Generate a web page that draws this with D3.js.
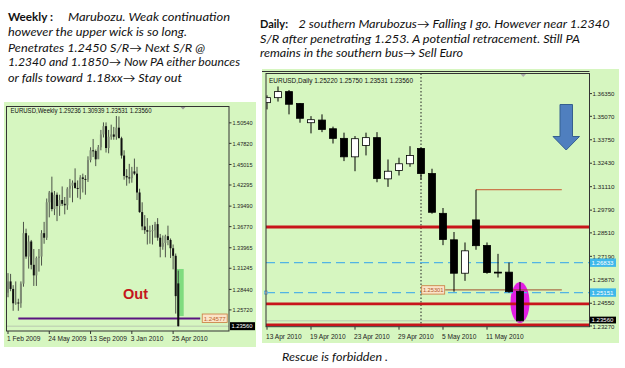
<!DOCTYPE html>
<html><head><meta charset="utf-8">
<script src="https://cdnjs.cloudflare.com/ajax/libs/d3/7.8.5/d3.min.js"></script>
<style>body{margin:0;background:#fff}svg{display:block}</style>
</head><body><svg id="c" width="625" height="368"></svg>
<script>
// ---------------- DATA ----------------
// Weekly EURUSD, week starting 1 Feb 2009 ... 9 May 2010
const wOpen  = [1.2800,1.2950,1.2850,1.2660,1.2670,1.2660,1.2920,1.3590,1.3280,1.3480,1.3170,1.3030,1.3260,1.3280,1.3590,1.3530,1.4000,1.4130,1.3910,1.4100,1.3950,1.4030,1.3980,1.3960,1.4180,1.4220,1.4260,1.4190,1.4180,1.4330,1.4310,1.4300,1.4560,1.4690,1.4680,1.4570,1.4730,1.4900,1.5010,1.4720,1.4870,1.4900,1.4870,1.4990,1.4850,1.4620,1.4350,1.4330,1.4320,1.4410,1.4380,1.4130,1.3870,1.3680,1.3630,1.3610,1.3620,1.3630,1.3710,1.3530,1.3410,1.3460,1.3550,1.3500,1.3390,1.3290,1.29236];
const wHigh  = [1.3060,1.3050,1.2900,1.2950,1.2720,1.2950,1.3740,1.3650,1.3560,1.3500,1.3380,1.3280,1.3380,1.3630,1.3740,1.4050,1.4150,1.4340,1.4150,1.4130,1.4100,1.4210,1.4070,1.4200,1.4310,1.4290,1.4450,1.4290,1.4360,1.4380,1.4360,1.4610,1.4730,1.4840,1.4700,1.4760,1.4960,1.5060,1.5060,1.4960,1.5030,1.5000,1.5145,1.5140,1.4870,1.4690,1.4440,1.4510,1.4470,1.4580,1.4470,1.4180,1.4000,1.3830,1.3790,1.3690,1.3700,1.3740,1.3790,1.3580,1.3560,1.3570,1.3690,1.3520,1.3440,1.3320,1.30939];
const wLow   = [1.2740,1.2820,1.2560,1.2640,1.2560,1.2600,1.2880,1.3250,1.3120,1.3110,1.2890,1.2890,1.3080,1.3160,1.3450,1.3500,1.3800,1.3880,1.3830,1.3750,1.3820,1.3950,1.3840,1.3900,1.4060,1.4000,1.4180,1.4060,1.4040,1.4130,1.4100,1.4270,1.4530,1.4600,1.4480,1.4580,1.4690,1.4860,1.4660,1.4650,1.4830,1.4830,1.4830,1.4900,1.4580,1.4300,1.4220,1.4250,1.4260,1.4360,1.4030,1.3860,1.3630,1.3580,1.3440,1.3450,1.3440,1.3530,1.3490,1.3270,1.3370,1.3270,1.3430,1.3260,1.3110,1.2523,1.23531];
const wClose = [1.2950,1.2850,1.2660,1.2670,1.2660,1.2920,1.3590,1.3280,1.3480,1.3170,1.3030,1.3260,1.3280,1.3590,1.3530,1.4000,1.4130,1.3910,1.4100,1.3950,1.4030,1.3980,1.3960,1.4180,1.4220,1.4260,1.4190,1.4180,1.4330,1.4310,1.4300,1.4560,1.4690,1.4680,1.4570,1.4730,1.4900,1.5010,1.4720,1.4870,1.4900,1.4870,1.4990,1.4850,1.4620,1.4350,1.4330,1.4320,1.4410,1.4380,1.4130,1.3870,1.3680,1.3630,1.3610,1.3620,1.3630,1.3710,1.3530,1.3410,1.3460,1.3550,1.3500,1.3390,1.3290,1.2755,1.23560];
const wDateLabels = ["1 Feb 2009","24 May 2009","13 Sep 2009","3 Jan 2010","25 Apr 2010"];
const wDateIdx = [0,16,32,48,64];
const wPriceTicks = [1.50540,1.47820,1.45015,1.42295,1.39490,1.36770,1.33965,1.31245,1.28440,1.25720];
const wHeader = "EURUSD,Weekly  1.29236 1.30939 1.23531 1.23560";
const wSupport = 1.24577;            // horizontal support line
const wSupportSpan = [4, 74.5];      // bar index range
const wBid = 1.23560;
const wBox = {i0:65.5, i1:68.1, p0:1.3115, p1:1.2490};

// Daily EURUSD, 13 Apr 2010 ... 14 May 2010
const dDates = ["13 Apr","14 Apr","15 Apr","16 Apr","19 Apr","20 Apr","21 Apr","22 Apr","23 Apr","26 Apr","27 Apr","28 Apr","29 Apr","30 Apr","3 May","4 May","5 May","6 May","7 May","10 May","11 May","12 May","13 May","14 May"];
const dOpen  = [1.3584,1.3612,1.3646,1.3579,1.3471,1.3486,1.3437,1.3383,1.3279,1.3343,1.3387,1.3155,1.3202,1.3240,1.3326,1.3185,1.2961,1.2812,1.2624,1.2924,1.2780,1.2630,1.2630,1.25220];
const dHigh  = [1.3625,1.3675,1.3655,1.3582,1.3508,1.3518,1.3449,1.3415,1.3396,1.3415,1.3418,1.3264,1.3274,1.3339,1.3330,1.3212,1.2991,1.2856,1.2797,1.30939,1.2797,1.2733,1.2684,1.25750];
const dLow   = [1.3546,1.3590,1.3518,1.3471,1.3411,1.3418,1.3354,1.3255,1.3198,1.3287,1.3136,1.3110,1.3174,1.3223,1.3151,1.2959,1.2782,1.2520,1.2581,1.2756,1.2621,1.2600,1.2514,1.23531];
const dClose = [1.3612,1.3646,1.3575,1.3496,1.3488,1.3433,1.3383,1.3279,1.3381,1.3387,1.3157,1.3198,1.3240,1.3287,1.3185,1.2967,1.2814,1.2624,1.2750,1.2779,1.2628,1.2625,1.2520,1.23560];
const dDateLabels = ["13 Apr 2010","19 Apr 2010","23 Apr 2010","29 Apr 2010","5 May 2010","11 May 2010"];
const dDateIdx = [0,4,8,12,16,20];
const dPriceTicks = [1.36350,1.35070,1.33750,1.32430,1.31110,1.29790,1.28510,1.27190,1.25870,1.24550,1.23270];
const dHeader = "EURUSD,Daily  1.25220 1.25750 1.23531 1.23560";
const dRedLevels = [1.2884, 1.2452, 1.2333];
const dCyanLevels = [1.26833, 1.25151];
const dBid = 1.23560;
const dSeparatorIdx = 14;   // 3 May 2010 (month separator)
const dTrend = [
  {price:1.25301, i0:16.2, i1:26.8, label:"1.25301"},
  {price:1.30939, i0:19,   i1:26.8, label:null}
];
const dHighlight = {i:23, price:1.2459};

const leftText = [
  [{t:"Weekly :", b:true, x:8, w:45}, {t:"Marubozu.  Weak continuation", x:68, w:162}],
  [{t:"however the upper wick is so long.", x:8, w:179}],
  [{t:"Penetrates  1.2450 S/R\u2192   Next S/R @", x:8, w:197}],
  [{t:"1.2340 and 1.1850\u2192 Now PA either bounces", x:8, w:232}],
  [{t:"or falls toward 1.18xx\u2192 Stay  out", x:8, w:174}]
];
const leftBase = [20.8, 36.2, 51.6, 66.2, 81.7];
const rightText = [
  [{t:"Daily:", b:true, x:260, w:28}, {t:"2 southern Marubozus\u2192 Falling I go. However near 1.2340", x:298.5, w:311}],
  [{t:"S/R  after penetrating 1.253.  A potential retracement. Still PA", x:260, w:320}],
  [{t:"remains in the southern bus\u2192 Sell Euro", x:260, w:203}]
];
const rightBase = [28, 42.5, 56.6];
const footText = "Rescue is forbidden .";

// ---------------- DRAW ----------------
const svg = d3.select("#c");
const GREEN = "#d6f6c0";
const FONT = "Lato, 'Open Sans', sans-serif";

function textBlock(lines, bases){
  lines.forEach((ln,k)=>{
    ln.forEach(s=>{
      svg.append("text").attr("x",s.x).attr("y",bases[k])
        .attr("font-family",FONT).attr("font-size",12)
        .attr("font-weight",s.b?"bold":"normal")
        .attr("font-style",s.b?"normal":"italic")
        .attr("fill","#111")
        .attr("textLength",s.w).attr("lengthAdjust","spacingAndGlyphs")
        .text(s.t);
    });
  });
}
textBlock(leftText,leftBase);
textBlock(rightText,rightBase);
svg.append("text").attr("x",282).attr("y",360.5).attr("font-family",FONT)
  .attr("font-size",12).attr("font-style","italic").attr("fill","#111")
  .attr("textLength",106).attr("lengthAdjust","spacingAndGlyphs").text(footText);

function smallText(g,x,y,t,opts={}){
  const e = g.append("text").attr("x",x).attr("y",y)
    .attr("font-family","'Liberation Sans', Arial, sans-serif")
    .attr("font-size",opts.fs||6.3).attr("fill",opts.fill||"#222").text(t);
  if(opts.w) e.attr("textLength",opts.w).attr("lengthAdjust","spacingAndGlyphs");
  if(opts.anchor) e.attr("text-anchor",opts.anchor);
  return e;
}

// ======= WEEKLY =======
{
  const g = svg.append("g");
  const L=6.5, R=229, T=106.5, B=331;
  g.append("rect").attr("x",4).attr("y",102).attr("width",252).attr("height",245).attr("fill",GREEN);
  const x = d3.scaleLinear().domain([0,1]).range([8,10.58]);
  const y = d3.scaleLinear().domain([1.2292,1.5271]).range([B,T]);
  g.append("defs").append("clipPath").attr("id","cw").append("rect")
    .attr("x",L).attr("y",T).attr("width",R-L).attr("height",B-T);
  const p = g.append("g").attr("clip-path","url(#cw)");
  // bid line
  p.append("line").attr("x1",L).attr("x2",R).attr("y1",y(wBid)).attr("y2",y(wBid))
    .attr("stroke","#b8c8b0").attr("stroke-width",1);
  // highlight rectangle
  p.append("rect").attr("x",x(wBox.i0)).attr("y",y(wBox.p0))
    .attr("width",x(wBox.i1)-x(wBox.i0)).attr("height",y(wBox.p1)-y(wBox.p0))
    .attr("fill","#7fdc7f");
  // support
  p.append("line").attr("x1",x(wSupportSpan[0])).attr("x2",x(wSupportSpan[1]))
    .attr("y1",y(wSupport)).attr("y2",y(wSupport)).attr("stroke","#5a1480").attr("stroke-width",2);
  // candles
  const idx = d3.range(wOpen.length);
  p.selectAll(".ww").data(idx).join("line")
    .attr("x1",i=>x(i)).attr("x2",i=>x(i)).attr("y1",i=>y(wHigh[i])).attr("y2",i=>y(wLow[i]))
    .attr("stroke","#2a2a2a").attr("stroke-width",0.8);
  p.selectAll(".wb").data(idx).join("rect")
    .attr("x",i=>x(i)-1).attr("width",2)
    .attr("y",i=>y(Math.max(wOpen[i],wClose[i])))
    .attr("height",i=>Math.max(1,Math.abs(y(wOpen[i])-y(wClose[i]))))
    .attr("fill",i=>wClose[i]>=wOpen[i]?"#7d8a74":"#111");
  // Out
  g.append("text").attr("x",123).attr("y",298.5).attr("font-family","'Liberation Sans', Arial, sans-serif")
    .attr("font-weight","bold").attr("font-size",14.5).attr("fill","#c4161c").text("Out");
  // support label box
  const bx = x(wSupportSpan[1])+2, by=y(wSupport);
  g.append("rect").attr("x",bx).attr("y",by-4.5).attr("width",25).attr("height",8.5)
    .attr("fill","#fbe4c8").attr("stroke","#c97b3d").attr("stroke-width",0.8);
  smallText(g,bx+1.5,by+2.3,wSupport.toFixed(5),{fill:"#c0662a",w:22,fs:6.2});
  // border
  g.append("rect").attr("x",L).attr("y",T).attr("width",R-L).attr("height",B-T)
    .attr("fill","none").attr("stroke","#333").attr("stroke-width",1);
  // header
  smallText(g,10.5,113.2,wHeader,{w:141,fs:6.4,fill:"#111"});
  // shift marker
  g.append("path").attr("d",`M180.5,107 L185.5,107 L183,109.5 Z`).attr("fill","#999");
  // y ticks
  wPriceTicks.forEach(v=>{
    g.append("line").attr("x1",R).attr("x2",R+2.5).attr("y1",y(v)).attr("y2",y(v)).attr("stroke","#333");
    smallText(g,R+3.5,y(v)+2.2,v.toFixed(5),{w:20,fs:6});
  });
  // bid box
  g.append("rect").attr("x",R+1).attr("y",y(wBid)-4).attr("width",25).attr("height",8).attr("fill","#000");
  smallText(g,R+2.5,y(wBid)+2.3,wBid.toFixed(5),{fill:"#fff",w:21,fs:6});
  // x ticks
  wDateIdx.forEach((d,k)=>{
    g.append("line").attr("x1",x(d)).attr("x2",x(d)).attr("y1",B).attr("y2",B+3).attr("stroke","#333");
    smallText(g,x(d)-1,340.5,wDateLabels[k],{fs:6.6});
  });
}

// ======= DAILY =======
{
  const g = svg.append("g");
  const L=266, R=589.5, T=73.5, B=326.7;
  g.append("rect").attr("x",262).attr("y",69).attr("width",357).attr("height",274).attr("fill",GREEN);
  const x = d3.scaleLinear().domain([0,23]).range([267,520]);
  const y = d3.scaleLinear().domain([1.2323,1.3748]).range([B,T]);
  g.append("defs").append("clipPath").attr("id","cd").append("rect")
    .attr("x",L).attr("y",T).attr("width",R-L).attr("height",B-T);
  const p = g.append("g").attr("clip-path","url(#cd)");
  // highlight ellipse
  p.append("ellipse").attr("cx",x(dHighlight.i)).attr("cy",y(dHighlight.price))
    .attr("rx",9.5).attr("ry",20.5).attr("fill","#e21ee2");
  // bid line
  p.append("line").attr("x1",L).attr("x2",R).attr("y1",y(dBid)).attr("y2",y(dBid))
    .attr("stroke","#b8c8b0").attr("stroke-width",1);
  // separator
  p.append("line").attr("x1",x(dSeparatorIdx)).attr("x2",x(dSeparatorIdx)).attr("y1",T).attr("y2",B)
    .attr("stroke","#222").attr("stroke-width",1).attr("stroke-dasharray","1.5,2");
  // red levels
  dRedLevels.forEach(v=>{
    p.append("line").attr("x1",L).attr("x2",R).attr("y1",y(v)).attr("y2",y(v))
      .attr("stroke","#c8141b").attr("stroke-width",2.8);
  });
  // cyan dashed levels
  dCyanLevels.forEach(v=>{
    p.append("line").attr("x1",L).attr("x2",R).attr("y1",y(v)).attr("y2",y(v))
      .attr("stroke","#52b4e4").attr("stroke-width",1.2).attr("stroke-dasharray","9,5");
  });
  // trend lines
  dTrend.forEach((t,k)=>{
    p.append("line").attr("x1",x(t.i0)).attr("x2",x(t.i1)).attr("y1",y(t.price)).attr("y2",y(t.price))
      .attr("stroke",k===0?"#a0502e":"#c8582e").attr("stroke-width",1);
  });
  // candles
  const idx = d3.range(dOpen.length);
  p.selectAll(".dw").data(idx).join("line")
    .attr("x1",i=>x(i)).attr("x2",i=>x(i)).attr("y1",i=>y(dHigh[i])).attr("y2",i=>y(dLow[i]))
    .attr("stroke","#000").attr("stroke-width",1);
  p.selectAll(".db").data(idx).join("rect")
    .attr("x",i=>x(i)-3.5).attr("width",7)
    .attr("y",i=>y(Math.max(dOpen[i],dClose[i])))
    .attr("height",i=>Math.max(0.5,Math.abs(y(dOpen[i])-y(dClose[i]))))
    .attr("fill",i=>dClose[i]>dOpen[i]?"#fff":"#000")
    .attr("stroke","#000").attr("stroke-width",0.8);
  // trend label
  const t0 = dTrend[0];
  const lx = x(t0.i0)-23.5, ly=y(t0.price);
  g.append("rect").attr("x",lx).attr("y",ly-4.2).attr("width",23).attr("height",8.4)
    .attr("fill","#fbe4c8").attr("stroke","#c97b3d").attr("stroke-width",0.8);
  smallText(g,lx+1.2,ly+2.3,t0.label,{fill:"#b0582a",w:20.5,fs:6.2});
  // cyan anchor squares
  dCyanLevels.slice(1).forEach(v=>{
    g.append("rect").attr("x",L-1.5).attr("y",y(v)-1.5).attr("width",3).attr("height",3)
      .attr("fill","#fff").attr("stroke","#4aa8d8").attr("stroke-width",0.7);
  });
  // blue arrow
  g.append("path").attr("d","M560,104.5 L572.5,104.5 L572.5,136.5 L579.5,136.5 L566.2,150 L553,136.5 L560,136.5 Z")
    .attr("fill","#4f7fbf").attr("stroke","#35608f").attr("stroke-width",1);
  // border
  g.append("rect").attr("x",L).attr("y",T).attr("width",R-L).attr("height",B-T)
    .attr("fill","none").attr("stroke","#333").attr("stroke-width",1);
  g.append("line").attr("x1",262).attr("x2",R).attr("y1",71.5).attr("y2",71.5).attr("stroke","#333");
  // header
  smallText(g,269,82.5,dHeader,{w:144,fs:6.4,fill:"#111"});
  g.append("path").attr("d",`M520.5,74 L526,74 L523.2,77 Z`).attr("fill","#aaa");
  // y ticks
  dPriceTicks.forEach((v,k)=>{
    const last = k===dPriceTicks.length-1;
    g.append("line").attr("x1",R).attr("x2",R+2.5).attr("y1",y(v)).attr("y2",y(v)).attr("stroke","#333");
    smallText(g,R+3,y(v)+(last?3.4:2.2),v.toFixed(5),{w:22,fs:last?5.6:6.2});
  });
  // price boxes
  dCyanLevels.forEach(v=>{
    g.append("rect").attr("x",R+0.5).attr("y",y(v)-4.2).attr("width",26).attr("height",8.4).attr("fill","#3fb8ea");
    smallText(g,R+2,y(v)+2.3,v.toFixed(5),{fill:"#fff",w:22,fs:6.2});
  });
  const yb = y(dBid)-0.8;
  g.append("rect").attr("x",R+0.5).attr("y",yb-3.4).attr("width",26).attr("height",6.8).attr("fill","#000");
  smallText(g,R+2,yb+2.1,dBid.toFixed(5),{fill:"#fff",w:22,fs:5.8});
  // x ticks
  dDateIdx.forEach((d,k)=>{
    g.append("line").attr("x1",x(d)).attr("x2",x(d)).attr("y1",B).attr("y2",B+3).attr("stroke","#333");
    smallText(g,x(d)-1,338.5,dDateLabels[k],{fs:6.6});
  });
}
</script></body></html>
